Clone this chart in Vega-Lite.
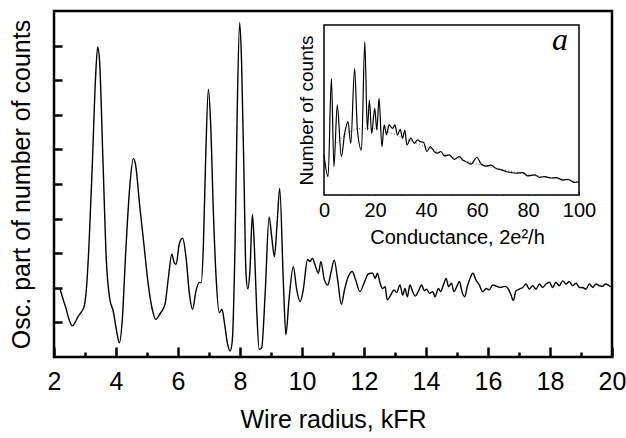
{
  "$schema": "https://vega.github.io/schema/vega-lite/v6.json",
  "width": 558,
  "height": 346,
  "autosize": {"type": "none"},
  "padding": {"left": 54, "top": 11, "right": 14, "bottom": 81},
  "background": "white",
  "config": {
    "view": {"stroke": "black", "strokeWidth": 2.5, "fill": "white"},
    "axis": {"labelFont": "Liberation Sans", "titleFont": "Liberation Sans", "labelColor": "black", "titleColor": "black", "tickColor": "black", "titleFontWeight": "normal", "grid": false, "domain": false}
  },
  "datasets": {
    "main": [
      {"r":2.2,"v":1.95},{"r":2.3,"v":1.65},{"r":2.38,"v":1.43},{"r":2.48,"v":1.1},{"r":2.59,"v":0.9},{"r":2.68,"v":1.0},{"r":2.77,"v":1.16},{"r":2.88,"v":1.3},{"r":2.97,"v":1.45},{"r":3.04,"v":1.91},{"r":3.13,"v":3.26},{"r":3.24,"v":5.66},{"r":3.34,"v":8.07},{"r":3.41,"v":8.96},{"r":3.47,"v":8.55},{"r":3.58,"v":5.66},{"r":3.69,"v":2.77},{"r":3.8,"v":1.67},{"r":3.91,"v":1.33},{"r":4.02,"v":0.75},{"r":4.11,"v":0.41},{"r":4.2,"v":1.04},{"r":4.31,"v":2.97},{"r":4.45,"v":4.99},{"r":4.56,"v":5.74},{"r":4.63,"v":5.56},{"r":4.77,"v":4.32},{"r":4.9,"v":3.26},{"r":5.04,"v":2.1},{"r":5.17,"v":1.38},{"r":5.28,"v":1.09},{"r":5.42,"v":1.25},{"r":5.58,"v":1.52},{"r":5.69,"v":2.29},{"r":5.8,"v":2.97},{"r":5.88,"v":2.72},{"r":5.94,"v":2.68},{"r":6.04,"v":3.26},{"r":6.15,"v":3.43},{"r":6.26,"v":2.87},{"r":6.37,"v":1.81},{"r":6.47,"v":1.38},{"r":6.58,"v":1.91},{"r":6.68,"v":2.15},{"r":6.75,"v":2.15},{"r":6.82,"v":3.26},{"r":6.89,"v":5.66},{"r":6.98,"v":7.74},{"r":7.05,"v":6.82},{"r":7.14,"v":4.22},{"r":7.23,"v":2.29},{"r":7.33,"v":1.28},{"r":7.42,"v":1.38},{"r":7.49,"v":1.04},{"r":7.6,"v":0.37},{"r":7.68,"v":0.17},{"r":7.75,"v":0.46},{"r":7.84,"v":3.26},{"r":7.91,"v":7.11},{"r":7.99,"v":9.66},{"r":8.05,"v":8.55},{"r":8.13,"v":5.18},{"r":8.19,"v":2.49},{"r":8.25,"v":1.97},{"r":8.32,"v":2.49},{"r":8.4,"v":4.12},{"r":8.46,"v":3.26},{"r":8.54,"v":1.33},{"r":8.62,"v":0.22},{"r":8.7,"v":0.27},{"r":8.81,"v":1.81},{"r":8.94,"v":4.05},{"r":9.02,"v":3.5},{"r":9.11,"v":2.9},{"r":9.2,"v":3.9},{"r":9.28,"v":4.87},{"r":9.4,"v":2.13},{"r":9.48,"v":0.64},{"r":9.58,"v":1.65},{"r":9.72,"v":2.61},{"r":9.83,"v":1.94},{"r":9.94,"v":1.6},{"r":10.04,"v":1.94},{"r":10.18,"v":2.82},{"r":10.26,"v":2.76},{"r":10.33,"v":2.85},{"r":10.44,"v":2.61},{"r":10.53,"v":2.42},{"r":10.61,"v":2.76},{"r":10.72,"v":2.23},{"r":10.83,"v":2.08},{"r":10.93,"v":2.42},{"r":11.04,"v":2.8},{"r":11.15,"v":2.23},{"r":11.27,"v":1.52},{"r":11.37,"v":1.94},{"r":11.49,"v":2.32},{"r":11.62,"v":2.47},{"r":11.73,"v":2.23},{"r":11.87,"v":1.89},{"r":12.0,"v":2.13},{"r":12.14,"v":2.4},{"r":12.22,"v":2.42},{"r":12.28,"v":2.42},{"r":12.36,"v":2.27},{"r":12.43,"v":2.42},{"r":12.52,"v":2.13},{"r":12.6,"v":1.98},{"r":12.68,"v":2.03},{"r":12.75,"v":1.65},{"r":12.86,"v":1.79},{"r":12.97,"v":1.94},{"r":13.05,"v":1.86},{"r":13.16,"v":2.08},{"r":13.25,"v":1.79},{"r":13.32,"v":1.98},{"r":13.4,"v":1.74},{"r":13.48,"v":2.08},{"r":13.57,"v":1.89},{"r":13.65,"v":1.76},{"r":13.75,"v":1.89},{"r":13.86,"v":2.08},{"r":13.94,"v":1.92},{"r":14.02,"v":1.96},{"r":14.11,"v":1.84},{"r":14.22,"v":1.89},{"r":14.29,"v":1.74},{"r":14.4,"v":1.98},{"r":14.47,"v":1.89},{"r":14.56,"v":2.08},{"r":14.65,"v":2.27},{"r":14.73,"v":2.03},{"r":14.82,"v":2.13},{"r":14.9,"v":1.89},{"r":14.99,"v":2.03},{"r":15.08,"v":2.18},{"r":15.16,"v":1.89},{"r":15.25,"v":1.74},{"r":15.33,"v":2.03},{"r":15.42,"v":2.27},{"r":15.51,"v":2.42},{"r":15.61,"v":2.23},{"r":15.72,"v":2.08},{"r":15.83,"v":1.89},{"r":15.94,"v":1.98},{"r":16.04,"v":1.94},{"r":16.15,"v":2.08},{"r":16.23,"v":2.06},{"r":16.39,"v":2.01},{"r":16.55,"v":2.04},{"r":16.66,"v":1.96},{"r":16.73,"v":1.82},{"r":16.82,"v":1.63},{"r":16.9,"v":1.91},{"r":17.01,"v":1.96},{"r":17.12,"v":2.01},{"r":17.23,"v":2.11},{"r":17.33,"v":1.96},{"r":17.44,"v":2.06},{"r":17.55,"v":1.96},{"r":17.66,"v":2.11},{"r":17.76,"v":2.01},{"r":17.87,"v":2.11},{"r":17.98,"v":2.16},{"r":18.09,"v":2.01},{"r":18.19,"v":2.16},{"r":18.3,"v":2.06},{"r":18.41,"v":2.2},{"r":18.52,"v":2.11},{"r":18.62,"v":2.18},{"r":18.73,"v":2.06},{"r":18.84,"v":2.13},{"r":18.95,"v":2.01},{"r":19.05,"v":2.01},{"r":19.16,"v":1.96},{"r":19.27,"v":2.11},{"r":19.38,"v":2.01},{"r":19.48,"v":2.11},{"r":19.59,"v":2.06},{"r":19.7,"v":2.04},{"r":19.78,"v":2.11},{"r":19.88,"v":2.08},{"r":19.96,"v":2.03}
    ],
    "inset": [
      {"g":0,"n":1.18},{"g":1.6,"n":0.54},{"g":2.9,"n":3.43},{"g":3.9,"n":0.83},{"g":5.2,"n":2.65},{"g":6.8,"n":1.13},{"g":8.1,"n":1.81},{"g":9.4,"n":2.16},{"g":10.5,"n":1.52},{"g":12.0,"n":3.72},{"g":13.1,"n":1.91},{"g":14.7,"n":1.32},{"g":16.0,"n":4.51},{"g":17.0,"n":1.91},{"g":17.8,"n":2.79},{"g":18.7,"n":1.81},{"g":19.9,"n":2.55},{"g":20.7,"n":1.91},{"g":21.6,"n":2.84},{"g":22.7,"n":1.42},{"g":23.6,"n":2.06},{"g":24.5,"n":1.77},{"g":25.5,"n":2.06},{"g":26.9,"n":1.96},{"g":27.8,"n":2.06},{"g":28.8,"n":1.77},{"g":29.9,"n":1.93},{"g":30.8,"n":1.67},{"g":31.7,"n":1.91},{"g":32.5,"n":1.47},{"g":34.1,"n":1.67},{"g":35.4,"n":1.52},{"g":36.7,"n":1.62},{"g":37.7,"n":1.57},{"g":39.0,"n":1.55},{"g":40.4,"n":1.28},{"g":41.7,"n":1.42},{"g":43.2,"n":1.28},{"g":44.5,"n":1.23},{"g":45.9,"n":1.28},{"g":47.2,"n":1.15},{"g":49.1,"n":1.18},{"g":51.1,"n":1.05},{"g":53.1,"n":1.13},{"g":54.4,"n":1.03},{"g":55.7,"n":0.98},{"g":57.7,"n":0.91},{"g":60.0,"n":1.11},{"g":61.6,"n":0.91},{"g":63.6,"n":0.85},{"g":65.5,"n":0.88},{"g":67.5,"n":0.78},{"g":69.5,"n":0.74},{"g":71.4,"n":0.69},{"g":73.4,"n":0.66},{"g":75.3,"n":0.64},{"g":78.0,"n":0.66},{"g":79.9,"n":0.56},{"g":82.6,"n":0.59},{"g":84.5,"n":0.52},{"g":86.5,"n":0.54},{"g":89.1,"n":0.5},{"g":91.1,"n":0.51},{"g":93.7,"n":0.44},{"g":95.7,"n":0.46},{"g":98.3,"n":0.37},{"g":100,"n":0.39}
    ],
    "fit": [
      {"g":5,"n":1.53},{"g":10,"n":1.86},{"g":15,"n":1.96},{"g":20,"n":1.96},{"g":25,"n":1.86},{"g":30,"n":1.71},{"g":40,"n":1.42},{"g":50,"n":1.13},{"g":60,"n":0.91},{"g":70,"n":0.75},{"g":80,"n":0.6},{"g":90,"n":0.5},{"g":100,"n":0.39}
    ],
    "label": [{"g":92.5,"n":4.26,"t":"a"}],
    "frame": [{"g0":0,"g1":100,"n0":0,"n1":5}]
  },
  "layer": [
    {
      "data": {"name": "main"},
      "mark": {"type": "line", "color": "black", "strokeWidth": 1.4, "interpolate": "monotone"},
      "encoding": {
        "x": {"field": "r", "type": "quantitative", "scale": {"domain": [2, 20], "nice": false, "zero": false},
          "axis": {"orient": "bottom", "values": [2,3,4,5,6,7,8,9,10,11,12,13,14,15,16,17,18,19,20],
            "labelExpr": "datum.value % 2 == 0 ? datum.label : ''",
            "tickSize": {"condition": {"test": "datum.value % 2 == 1", "value": -5}, "value": -10},
            "tickWidth": 2.5, "labelFontSize": 25, "labelPadding": 22, "labelFlush": false, "labelOverlap": false,
            "title": "Wire radius, kFR", "titleFontSize": 25, "titleBaseline": "alphabetic", "titleY": 70}},
        "y": {"field": "v", "type": "quantitative", "scale": {"domain": [0, 10], "nice": false, "zero": false},
          "axis": {"orient": "left", "values": [1,2,3,4,5,6,7,8,9], "labels": false, "tickSize": -8, "tickWidth": 2.5,
            "title": "Osc. part of number of counts", "titleFontSize": 25, "titleAngle": 270, "titleBaseline": "alphabetic", "titleX": -25, "titleY": 173, "titleAlign": "center"}}
      }
    },
    {
      "layer": [
        {
          "data": {"name": "frame"},
          "mark": {"type": "rect", "fill": "white", "stroke": "black", "strokeWidth": 1.5},
          "encoding": {
            "x": {"field": "g0", "type": "quantitative", "scale": {"domain": [0, 100], "range": [270, 525], "nice": false, "zero": false},
              "axis": {"orient": "bottom", "offset": -162, "values": [0,10,20,30,40,50,60,70,80,90,100], "labelExpr": "datum.value % 20 == 0 ? datum.label : ''", "tickSize": -4, "tickWidth": 1, "labelFontSize": 20, "labelPadding": 9, "labelFlush": false, "labelOverlap": false, "title": "Conductance, 2e²/h", "titleFontSize": 20, "titleBaseline": "alphabetic", "titleX": 403, "titleY": 48}},
            "x2": {"field": "g1"},
            "y": {"field": "n0", "type": "quantitative", "scale": {"domain": [0, 5], "range": [184, 14], "nice": false, "zero": false},
              "axis": {"orient": "left", "offset": -270, "values": [1,2,3,4], "labels": false, "tickSize": -4, "tickWidth": 1, "title": "Number of counts", "titleFontSize": 19, "titleAngle": 270, "titleBaseline": "alphabetic", "titleX": -12, "titleY": 99, "titleAlign": "center"}},
            "y2": {"field": "n1"}
          }
        },
        {
          "data": {"name": "fit"},
          "mark": {"type": "line", "color": "#555555", "strokeWidth": 0.9, "strokeDash": [1, 2], "interpolate": "monotone"},
          "encoding": {
            "x": {"field": "g", "type": "quantitative"},
            "y": {"field": "n", "type": "quantitative"}
          }
        },
        {
          "data": {"name": "inset"},
          "mark": {"type": "line", "color": "black", "strokeWidth": 1.2, "interpolate": "monotone"},
          "encoding": {
            "x": {"field": "g", "type": "quantitative"},
            "y": {"field": "n", "type": "quantitative"}
          }
        },
        {
          "data": {"name": "label"},
          "mark": {"type": "text", "font": "Liberation Serif", "fontStyle": "italic", "fontSize": 32, "align": "center", "baseline": "alphabetic", "color": "black"},
          "encoding": {
            "x": {"field": "g", "type": "quantitative"},
            "y": {"field": "n", "type": "quantitative"},
            "text": {"field": "t"}
          }
        }
      ]
    }
  ],
  "resolve": {"scale": {"x": "independent", "y": "independent"}, "axis": {"x": "independent", "y": "independent"}}
}
